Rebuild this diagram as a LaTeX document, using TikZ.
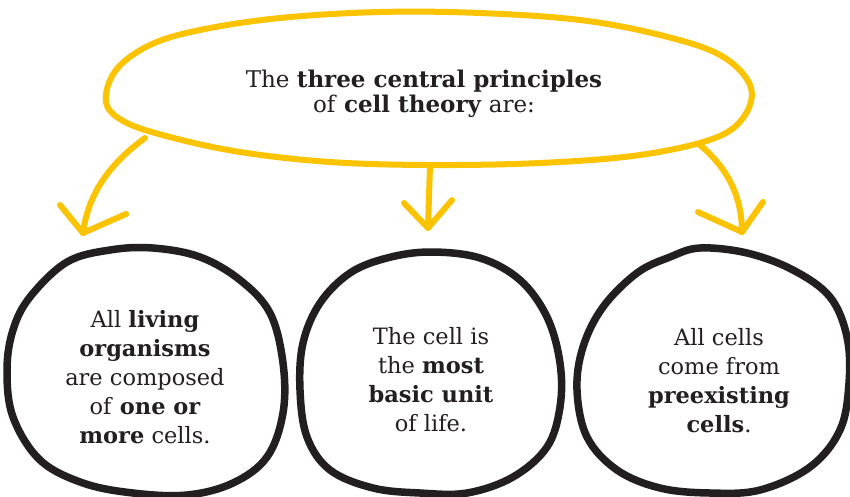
\documentclass[tikz,border=0pt]{standalone}
\usepackage{fontspec}
\setmainfont{DejaVu Serif}
\definecolor{ink}{HTML}{231F20}
\definecolor{gold}{HTML}{FCC400}
\begin{document}
\begin{tikzpicture}[x=1pt,y=-1pt,
  goldline/.style={draw=gold,line width=6pt,line cap=round,line join=round},
  cellline/.style={draw=ink,line width=7.5pt,line cap=round,line join=round},
  celltext/.style={text=ink,align=center,inner sep=0pt,font=\fontsize{22.5}{29}\selectfont},
  headtext/.style={text=ink,align=center,inner sep=0pt,font=\fontsize{23}{25}\selectfont}]
\useasboundingbox (0,0) rectangle (850,496);
\fill[white] (0,0) rectangle (850,496);

% heading bubble
\draw[goldline] plot[smooth cycle,tension=0.6] coordinates {
  (106,102) (116,70) (150,45) (200,30) (280,18) (380,12) (480,13) (580,20)
  (660,35) (720,55) (750,85) (745,115) (715,138) (640,155) (540,163)
  (430,165) (330,162) (240,152) (170,137) (125,122)};
\node[headtext] (title) at (424,94)
  {The \textbf{three central principles}\\ of \textbf{cell theory} are:};

% the three cells
\draw[cellline] plot[smooth cycle,tension=0.6] coordinates {
  (30,297) (67,262) (110,250) (153,248) (200,257) (240,280) (270,313)
  (283,363) (283,413) (267,457) (233,483) (187,495) (133,493) (83,483)
  (40,460) (13,417) (7,370) (13,330)};
\draw[cellline] plot[smooth cycle,tension=0.6] coordinates {
  (430,252) (480,258) (520,280) (547,317) (560,363) (560,407) (547,447)
  (513,477) (467,493) (420,493) (373,488) (330,470) (307,437) (300,390)
  (303,343) (320,303) (350,273) (387,258)};
\draw[cellline] plot[smooth cycle,tension=0.6] coordinates {
  (700,248) (747,253) (793,270) (830,297) (847,337) (849,383) (840,430)
  (810,467) (760,490) (710,493) (660,488) (617,470) (587,437) (577,390)
  (583,347) (603,307) (637,273) (670,257)};

\node[celltext] (c1) at (145,377)
  {All \textbf{living}\\ \textbf{organisms}\\ are composed\\ of \textbf{one or}\\ \textbf{more} cells.};
\node[celltext] (c2) at (431,380)
  {The cell is\\ the \textbf{most}\\ \textbf{basic unit}\\ of life.};
\node[celltext] (c3) at (719,381)
  {All cells\\ come from\\ \textbf{preexisting}\\ \textbf{cells}.};

% arrows from the bubble down to each cell
\coordinate (s1) at (145,138);
\coordinate (t1) at (83,233);
\coordinate (s2) at (430,165);
\coordinate (t2) at (428,228);
\coordinate (s3) at (700,145);
\coordinate (t3) at (742,232);

\draw[goldline] (s1) .. controls (108,165) and (88,195) .. (t1);
\draw[goldline] (60,205) -- (t1) -- (126,214);
\draw[goldline] (s2) -- (t2);
\draw[goldline] (404,203) -- (t2) -- (452,200);
\draw[goldline] (s3) .. controls (730,170) and (742,200) .. (t3);
\draw[goldline] (698,212) -- (t3) -- (763,202);
\end{tikzpicture}
\end{document}
